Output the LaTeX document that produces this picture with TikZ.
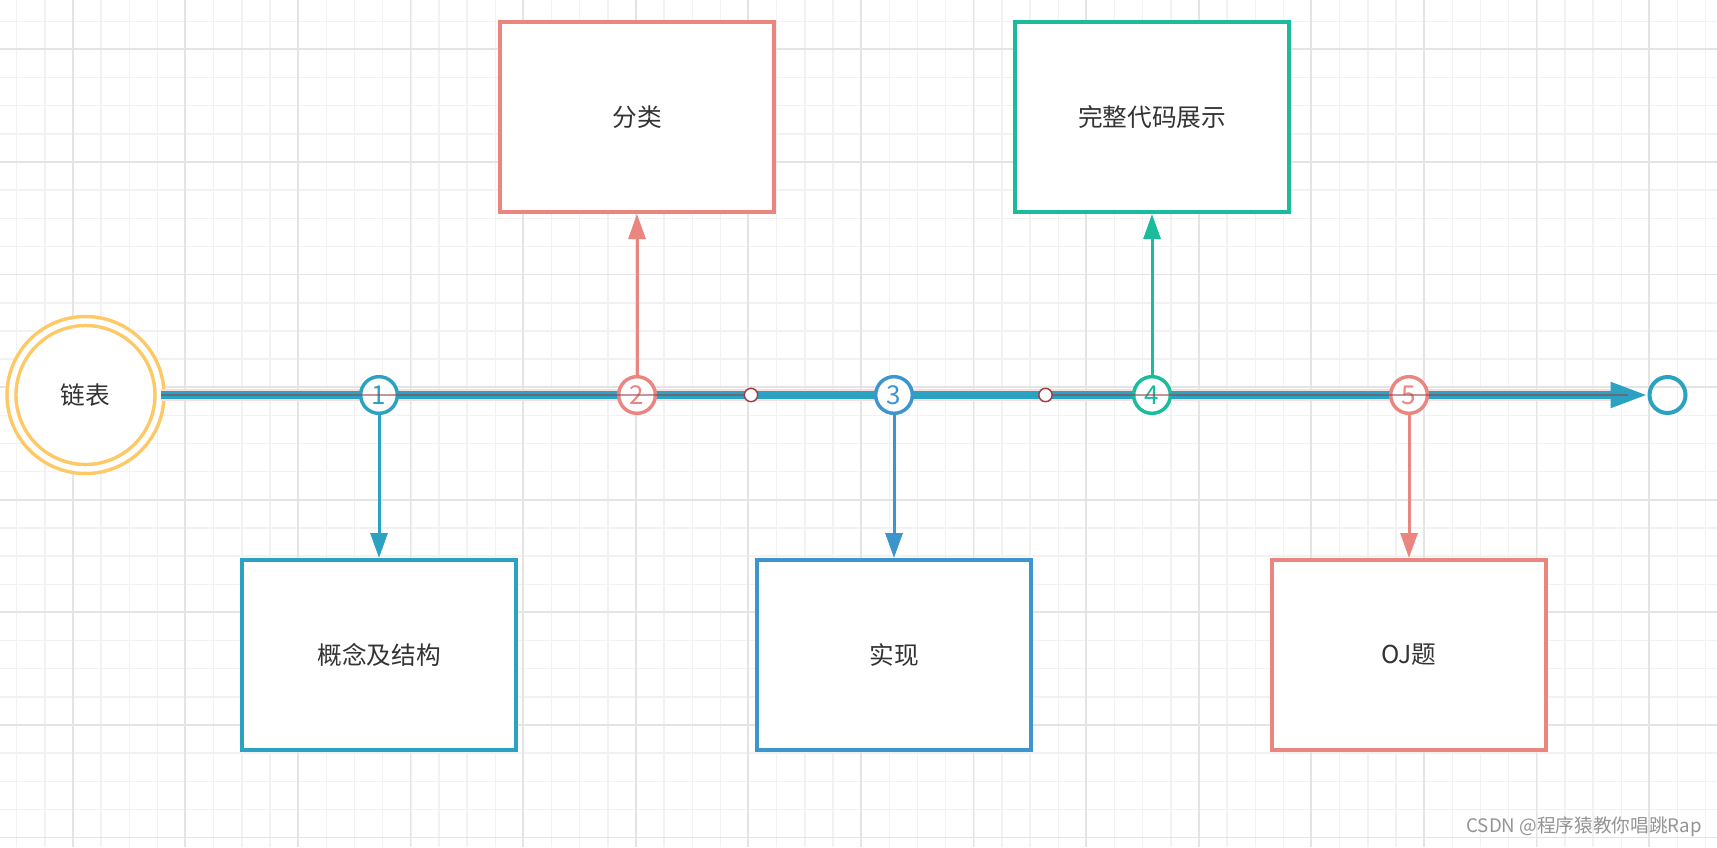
\documentclass[tikz,border=0pt]{standalone}
\usepackage{fontspec}
\newfontfamily\cjk{Noto Sans CJK SC}
\usetikzlibrary{positioning,arrows.meta}
\definecolor{tealc}{HTML}{2CA2C2}
\definecolor{bluec}{HTML}{3D95CD}
\definecolor{salmonc}{HTML}{EA8580}
\definecolor{greenc}{HTML}{1ABC9C}
\definecolor{yellowc}{HTML}{FEC865}
\definecolor{darkredc}{HTML}{A03C42}
\definecolor{minorc}{HTML}{F2F2F2}
\definecolor{majorc}{HTML}{E4E4E4}
\definecolor{textc}{HTML}{333333}
\definecolor{thinc}{RGB}{150,60,70}

\begin{document}
\begin{tikzpicture}[x=0.75pt, y=-0.75pt,
    every node/.style = {font=\cjk, text=textc},
    start/.style = {shape=circle, draw=yellowc, double=white, double distance=4.1pt,
      line width=2.6pt, fill=white, minimum size=111pt,
      font=\cjk\fontsize{18.5}{22}\selectfont},
    num/.style = {shape=circle, draw=#1, text=#1, line width=2.6pt, fill=white,
      minimum size=27.5pt, inner sep=0pt, font=\cjk\fontsize{19.5}{20}\selectfont},
    waypt/.style = {shape=circle, draw=darkredc, line width=1.1pt, fill=white,
      minimum size=10pt, inner sep=0pt},
    box/.style = {shape=rectangle, draw=#1, line width=3pt, fill=white,
      minimum width=205.5pt, minimum height=142.5pt,
      font=\cjk\fontsize{18.5}{22}\selectfont},
    link/.style = {draw=#1, line width=2.25pt,
      -{Triangle[length=18.75pt, width=12.75pt, fill=#1]}},
    minorline/.style = {draw=minorc, line width=1.1pt},
    majorline/.style = {draw=majorc, line width=1.4pt},
    watermark/.style = {anchor=east, inner sep=0pt, text=black!42,
      font=\cjk\fontsize{14}{16}\selectfont}]

  % background grid
  \fill[white] (0,0) rectangle (1717,847);
  \useasboundingbox (0,0) rectangle (1717,847);
  \foreach \i in {0,...,60}
    \draw[minorline] (16.7+28.15*\i,0) -- (16.7+28.15*\i,847);
  \foreach \j in {0,...,29}
    \draw[minorline] (0,21.3+28.15*\j) -- (1717,21.3+28.15*\j);
  \foreach \i in {0,...,14}
    \draw[majorline] (72.7+112.6*\i,0) -- (72.7+112.6*\i,847);
  \foreach \j in {0,...,7}
    \draw[majorline] (0,49.3+112.6*\j) -- (1717,49.3+112.6*\j);

  % time line
  \node[start] (list) at (85.5,395) {链表};
  \node[shape=circle, draw=tealc, line width=3pt, minimum size=27pt] (end) at (1667.5,395) {};
  \coordinate (glowend) at (1611,395);
  \coordinate (barend) at (1628,395);
  \draw[salmonc!28, line width=8.5pt] (list.east) -- (glowend);
  \draw[tealc, line width=6pt, -{Triangle[length=27.75pt, width=18pt]}] (list.east) -- (end.west);

  \node[num=tealc] (n1) at (379,395) {1};
  \node[num=salmonc] (n2) at (637,395) {2};
  \node[num=bluec] (n3) at (894,395) {3};
  \node[num=greenc] (n4) at (1152,395) {4};
  \node[num=salmonc] (n5) at (1409,395) {5};
  \node[waypt] (w1) at (751,395) {};
  \node[waypt] (w2) at (1045.5,395) {};

  \draw[thinc, opacity=0.55, line width=1.1pt] (list.east) -- (w1.west);
  \draw[thinc, opacity=0.55, line width=1.1pt] (w2.east) -- (barend);

  % stages
  \node[box=tealc, below=107.2pt of n1] (concept) {概念及结构};
  \node[box=salmonc, above=120.7pt of n2] (kinds) {分类};
  \node[box=bluec, below=107.2pt of n3] (impl) {实现};
  \node[box=greenc, above=120.7pt of n4] (code) {完整代码展示};
  \node[box=salmonc, below=107.2pt of n5] (oj) {OJ题};

  \draw[link=tealc] (n1) -- (concept);
  \draw[link=salmonc] (n2) -- (kinds);
  \draw[link=bluec] (n3) -- (impl);
  \draw[link=greenc] (n4) -- (code);
  \draw[link=salmonc] (n5) -- (oj);

  \node[watermark] (sign) at (1702,827) {CSDN @程序猿教你唱跳Rap};
\end{tikzpicture}
\end{document}
